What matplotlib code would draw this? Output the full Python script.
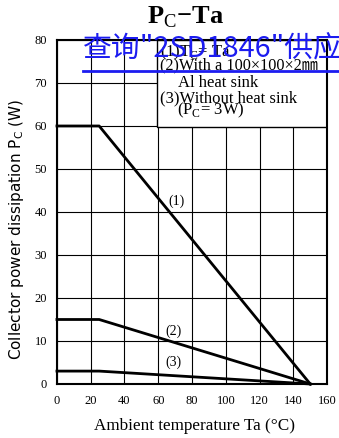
import matplotlib
matplotlib.use("Agg")
import matplotlib.pyplot as plt
from matplotlib.patches import Rectangle

plt.rcParams["mathtext.fontset"] = "custom"
plt.rcParams["mathtext.rm"] = "Liberation Serif"
plt.rcParams["mathtext.bf"] = "Liberation Serif:bold"
plt.rcParams["mathtext.sf"] = "DejaVu Sans"

# Data
curve1_x = [0, 25, 150]
curve1_y = [60, 60, 0]
curve2_x = [0, 25, 150]
curve2_y = [15, 15, 0]
curve3_x = [0, 25, 150]
curve3_y = [3, 3, 0]
curve_labels = ["(1)", "(2)", "(3)"]
label_pos_x = [70.5, 69, 69]
label_pos_y = [42.5, 12.2, 5.0]
xticks = [0, 20, 40, 60, 80, 100, 120, 140, 160]
yticks = [0, 10, 20, 30, 40, 50, 60, 70, 80]

serif = ["Liberation Serif", "DejaVu Serif"]
serif_cjk = ["Liberation Serif", "Noto Sans CJK JP", "DejaVu Serif"]

fig = plt.figure(figsize=(3.39, 4.38), dpi=100)
ax = fig.add_axes([0.168, 0.1233, 0.797, 0.7854])
ax.set_xlim(0, 160)
ax.set_ylim(0, 80)
ax.set_xticks(xticks)
ax.set_yticks(yticks)
ax.set_xticklabels([str(v) for v in xticks], family=serif, fontsize=9)
ax.set_yticklabels([str(v) for v in yticks], family=serif, fontsize=9)
ax.tick_params(axis="x", length=0, pad=8)
ax.tick_params(axis="y", length=0, pad=7)
ax.grid(True, color="black", linewidth=0.8)
ax.set_axisbelow(True)
for s in ax.spines.values():
    s.set_linewidth(1.5)

for xs, ys in [(curve1_x, curve1_y), (curve2_x, curve2_y), (curve3_x, curve3_y)]:
    ax.plot(xs, ys, color="black", linewidth=2.0, zorder=3, clip_on=False)
for lbl, lx, ly in zip(curve_labels, label_pos_x, label_pos_y):
    ax.text(lx, ly, lbl, family=serif, fontsize=10, ha="center", va="center", zorder=4)

# legend box
ax.add_patch(Rectangle((59.3, 59.8), 100.7, 20.2, facecolor="white",
                       edgecolor="black", linewidth=1.0, zorder=2.5))
fs = 12
ax.text(61, 77.0, r"(1)T$_\mathrm{C}$= Ta", family=serif, fontsize=fs, va="center", zorder=4)
ax.text(61, 74.2, "(2)With a 100×100×2㎜", family=serif_cjk, fontsize=fs - 0.3, va="center", zorder=4)
ax.text(71.5, 70.0, "Al heat sink", family=serif, fontsize=fs, va="center", zorder=4)
ax.text(61, 66.5, "(3)Without heat sink", family=serif, fontsize=fs, va="center", zorder=4)
ax.text(71, 63.6, r"(P$_\mathrm{C}$= 3W)", family=serif, fontsize=fs, va="center", zorder=4)

fig.text(0.575, 1 - 426 / 438, "Ambient temperature Ta (°C)", family=serif, fontsize=12.3,
         ha="center", va="center")
fig.text(17 / 339, 1 - 229 / 438, r"Collector power dissipation P$_\mathsf{C}$ (W)",
         family=["DejaVu Sans"], fontsize=11, rotation=90, ha="center", va="center")

fig.text(0.546, 1 - 17 / 438, r"$\mathbf{P}_\mathrm{C}$$\mathbf{-}$Ta", family=serif, fontsize=19,
         weight="bold", ha="center", va="center")

# watermark
fig.text(0.245, 0.887, "查询\"2SD1846\"供应商", family=["Noto Sans CJK SC", "DejaVu Sans"],
         fontsize=20.8, color="#1c1cf0", ha="left", va="center", zorder=10)
fig.add_artist(plt.Line2D([0.245, 1.0], [0.838, 0.838], color="#1c1cf0", linewidth=2.0,
                          transform=fig.transFigure, zorder=10))

fig.savefig("out.png", dpi=100)
